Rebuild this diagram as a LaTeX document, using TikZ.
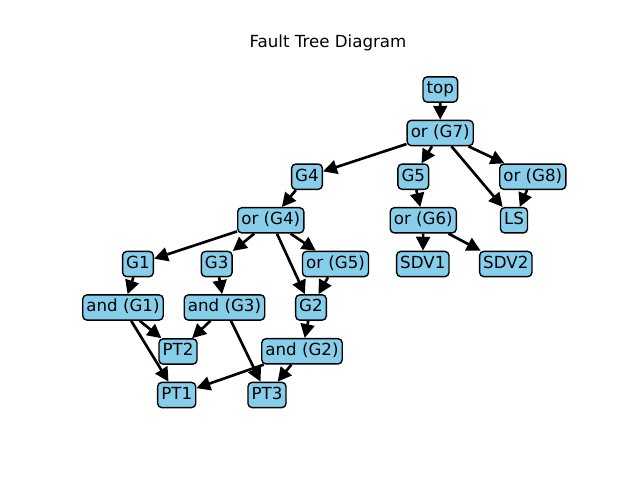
\documentclass[tikz,border=0pt]{standalone}
\usepackage{fontspec}
\setmainfont{DejaVu Sans}
\usetikzlibrary{arrows.meta}
\definecolor{skyblue}{RGB}{135,206,235}
\begin{document}
\begin{tikzpicture}[x=0.72pt,y=-0.72pt,
  box/.style={draw=black,fill=skyblue,line width=1pt,rounded corners=3pt,
    font=\fontsize{12}{14}\selectfont,text height=9pt,text depth=2.8pt,
    inner xsep=2.6pt,inner ysep=3.2pt},
  edge/.style={line width=1.9pt,-{Triangle[length=10pt,width=10pt]}},
  titlestyle/.style={font=\fontsize{12}{14}\selectfont}]
\useasboundingbox (0,0) rectangle (640,480);
\node[titlestyle] (title) at (328,43) {Fault Tree Diagram};
% nodes
\node[box] (top) at (440.3,89.5) {top};
\node[box] (g7) at (440.2,133) {or (G7)};
\node[box] (G4) at (307,176.7) {G4};
\node[box] (G5) at (413.3,176.7) {G5};
\node[box] (g8) at (532.8,176.7) {or (G8)};
\node[box] (g4) at (270.8,220.3) {or (G4)};
\node[box] (g6) at (423.3,220.3) {or (G6)};
\node[box] (LS) at (514,220.3) {LS};
\node[box] (G1) at (138,264) {G1};
\node[box] (G3) at (216.7,264) {G3};
\node[box] (g5) at (335.5,264) {or (G5)};
\node[box] (SDV1) at (422.8,264) {SDV1};
\node[box] (SDV2) at (505.8,264) {SDV2};
\node[box] (a1) at (123,307.5) {and (G1)};
\node[box] (a3) at (224.5,307.5) {and (G3)};
\node[box] (G2) at (311,307.5) {G2};
\node[box] (PT2) at (178,351.5) {PT2};
\node[box] (a2) at (302,351.3) {and (G2)};
\node[box] (PT1) at (176.7,395) {PT1};
\node[box] (PT3) at (267,395) {PT3};
% edges
\draw[edge] (top) -- (g7);
\draw[edge] (g7) -- (G4);
\draw[edge] (g7) -- (G5);
\draw[edge] (g7) -- (LS);
\draw[edge] (g7) -- (g8);
\draw[edge] (g8) -- (LS);
\draw[edge] (G4) -- (g4);
\draw[edge] (G5) -- (g6);
\draw[edge] (g6) -- (SDV1);
\draw[edge] (g6) -- (SDV2);
\draw[edge] (g4) -- (G1);
\draw[edge] (g4) -- (G3);
\draw[edge] (g4) -- (g5);
\draw[edge] (g4) -- (G2);
\draw[edge] (g5) -- (G2);
\draw[edge] (G1) -- (a1);
\draw[edge] (G3) -- (a3);
\draw[edge] (a1) -- (PT2);
\draw[edge] (a1) -- (PT1);
\draw[edge] (a3) -- (PT2);
\draw[edge] (a3) -- (PT3);
\draw[edge] (G2) -- (a2);
\draw[edge] (a2) -- (PT1);
\draw[edge] (a2) -- (PT3);
\end{tikzpicture}
\end{document}
